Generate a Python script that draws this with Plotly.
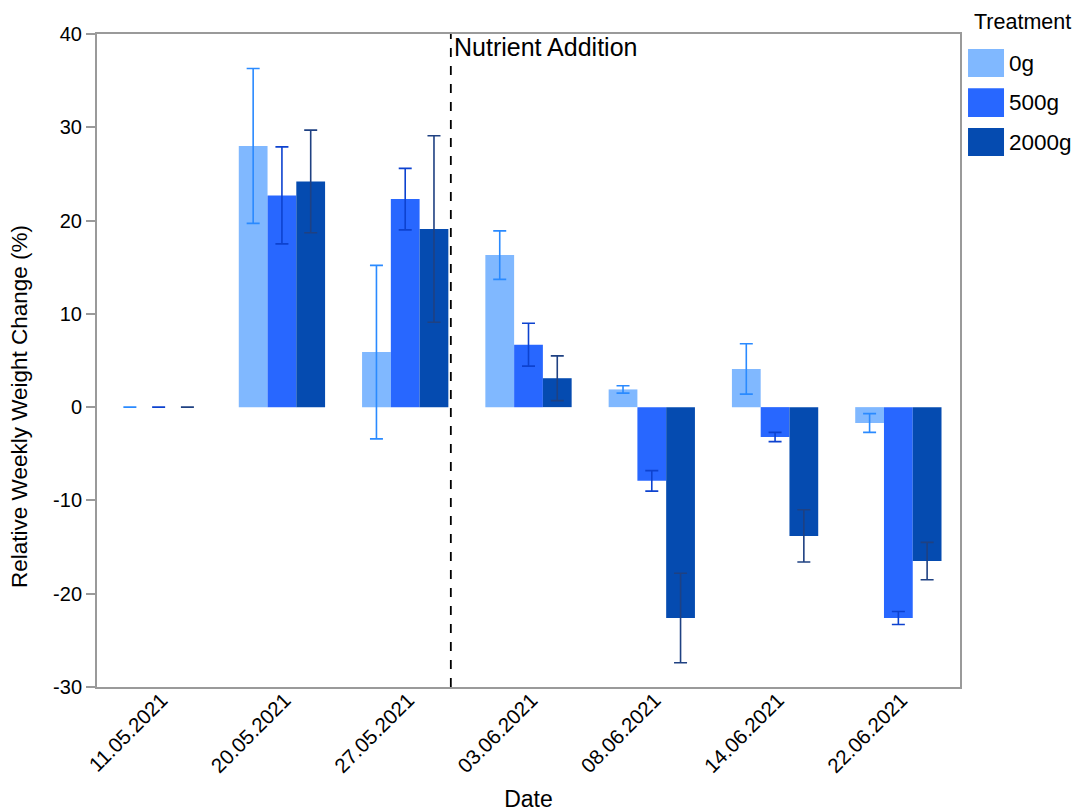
import plotly.graph_objects as go

# Sampling dates (categories on the x axis)
dates = ["11.05.2021", "20.05.2021", "27.05.2021", "03.06.2021",
         "08.06.2021", "14.06.2021", "22.06.2021"]

# Mean relative weekly weight change (%) per treatment
change_0g = [0.0, 28.0, 5.9, 16.3, 1.9, 4.1, -1.7]
change_500g = [0.0, 22.7, 22.3, 6.7, -7.9, -3.2, -22.6]
change_2000g = [0.0, 24.2, 19.1, 3.1, -22.6, -13.8, -16.5]

# Error (± SE) per treatment
err_0g = [0.0, 8.3, 9.3, 2.6, 0.4, 2.7, 1.0]
err_500g = [0.0, 5.2, 3.3, 2.3, 1.1, 0.5, 0.7]
err_2000g = [0.0, 5.5, 10.0, 2.4, 4.8, 2.8, 2.0]

# Y axis ticks
y_ticks = [-30, -20, -10, 0, 10, 20, 30, 40]
y_tick_labels = ["-30", "-20", "-10", "0", "10", "20", "30", "40"]

treatments = ["0g", "500g", "2000g"]
bar_colors = ["#80b8ff", "#2867ff", "#054bb0"]
err_colors = ["#2a8aff", "#0d42cf", "#1f4182"]

series = [change_0g, change_500g, change_2000g]
errors = [err_0g, err_500g, err_2000g]

FONT = "Liberation Sans, Arial, sans-serif"

fig = go.Figure()
for name, vals, errs, bc, ec in zip(treatments, series, errors, bar_colors, err_colors):
    fig.add_trace(go.Bar(
        x=dates, y=vals, name=name,
        marker=dict(color=bc, line=dict(width=0)),
        error_y=dict(type="data", array=errs, visible=True,
                     color=ec, thickness=1.6, width=6.5),
        showlegend=False,
    ))

# Nutrient addition marker between 27.05 and 03.06
nutrient_x = 2.37
shapes = [dict(type="line", xref="x", yref="paper", x0=nutrient_x, x1=nutrient_x,
               y0=0, y1=1, line=dict(color="black", width=1.8, dash="dash"))]
annotations = [dict(x=nutrient_x, xref="x", y=0.98, yref="paper",
                    text="Nutrient Addition", showarrow=False, xanchor="left",
                    xshift=1, yanchor="middle",
                    font=dict(family=FONT, size=25, color="black"))]

# Y axis title, centred on the figure height
annotations.append(dict(x=0, y=0.4288, xref="paper", yref="paper", xshift=-77,
                        text="Relative Weekly Weight Change (%)", textangle=-90,
                        showarrow=False, xanchor="center", yanchor="middle",
                        font=dict(family=FONT, size=22.5, color="black")))

# Legend drawn as swatches + labels to the right of the plot
annotations.append(dict(x=1.014, y=1.018, xref="paper", yref="paper",
                        text="Treatment", showarrow=False, xanchor="left",
                        yanchor="middle", font=dict(family=FONT, size=21.5, color="black")))
swatch_rows = [(0.977, 0.934), (0.917, 0.873), (0.856, 0.813)]
for (ytop, ybot), name, bc in zip(swatch_rows, treatments, bar_colors):
    shapes.append(dict(type="rect", xref="paper", yref="paper",
                       x0=1.0093, x1=1.051, y0=ybot, y1=ytop,
                       fillcolor=bc, line=dict(width=0)))
    annotations.append(dict(x=1.055, y=(ytop + ybot) / 2, xref="paper", yref="paper",
                            text=name, showarrow=False, xanchor="left", yanchor="middle",
                            font=dict(family=FONT, size=22.5, color="black")))

fig.update_layout(
    width=1075, height=812,
    margin=dict(l=97, r=115, t=34, b=125),
    paper_bgcolor="white", plot_bgcolor="white",
    barmode="group", bargap=0.3, bargroupgap=0,
    font=dict(family=FONT, size=20, color="black"),
    shapes=shapes, annotations=annotations,
    showlegend=False,
)
fig.update_xaxes(
    type="category", tickangle=-45, showgrid=False, zeroline=False,
    showline=True, linecolor="#9a9a9a", linewidth=2, mirror=True,
    ticks="", tickfont=dict(family=FONT, size=20.5), automargin=False,
    ticklabelstandoff=-9, ticklabelshift=3,
    title=dict(text="Date", font=dict(family=FONT, size=23), standoff=24),
)
fig.update_yaxes(
    range=[-30, 40], tickvals=y_ticks, ticktext=y_tick_labels,
    showgrid=False, zeroline=False,
    showline=True, linecolor="#9a9a9a", linewidth=2, mirror=True,
    ticks="outside", ticklen=9, tickwidth=1.5, tickcolor="#9a9a9a",
    tickfont=dict(family=FONT, size=20), automargin=False,
)

fig.write_html("out.html")
